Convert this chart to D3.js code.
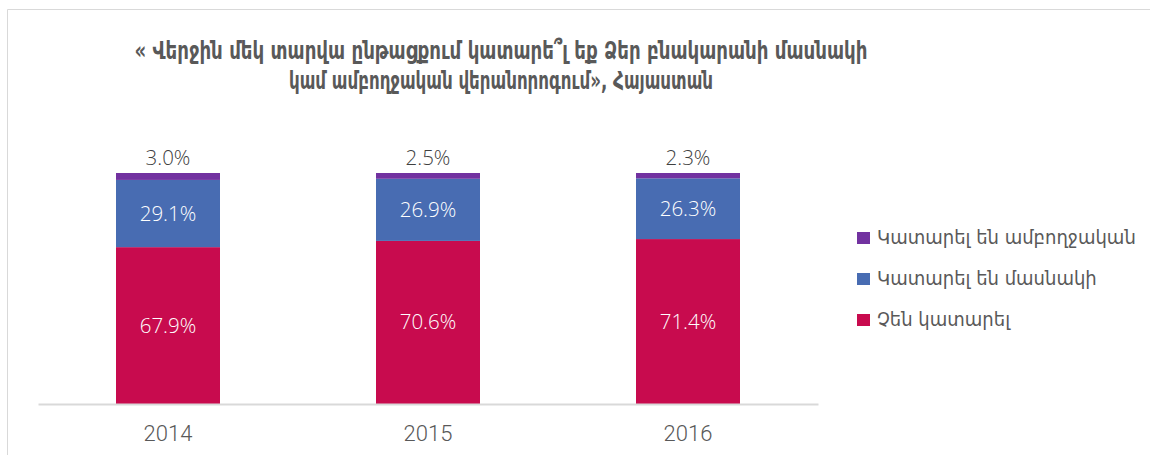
<!DOCTYPE html>
<html><head><meta charset="utf-8">
<script src="https://cdn.jsdelivr.net/npm/d3@7"></script>
<style>
html,body{margin:0;padding:0;background:#fff;}
svg{display:block;}
</style></head>
<body>
<svg id="chart" width="1150" height="455"></svg>
<script>
const years = ["2014", "2015", "2016"];
const notDone = [67.9, 70.6, 71.4];
const partial = [29.1, 26.9, 26.3];
const full = [3.0, 2.5, 2.3];
const seriesNames = ["Չեն կատարել", "Կատարել են մասնակի", "Կատարել են ամբողջական"];
const seriesColors = ["#C80B4E", "#486CB2", "#7232A0"];
const titleLines = ["« Վերջին մեկ տարվա ընթացքում կատարե՞լ եք Ձեր բնակարանի մասնակի", "կամ ամբողջական վերանորոգում», Հայաստան"];

const svg = d3.select("#chart");
const armFont = "'DejaVu Sans Condensed', 'DejaVu Sans', sans-serif";

// frame
svg.append("path").attr("d", "M7.5,455 L7.5,9.5 L1150,9.5")
  .attr("fill", "none").attr("stroke", "#d9d9d9").attr("stroke-width", 1);

// title
const title = svg.append("g");
const titleY = [59, 89];
const titleW = [733, 424];
titleLines.forEach((t, i) => {
  const tx = title.append("text").attr("x", 501).attr("y", titleY[i])
    .attr("text-anchor", "middle").attr("font-family", armFont)
    .attr("font-weight", "bold").attr("font-size", 24).attr("fill", "#595959")
    .text(t);
  tx.attr("textLength", titleW[i]).attr("lengthAdjust", "spacingAndGlyphs");
});

const x = d3.scaleBand().domain(years).range([38, 818]).paddingInner(0.6).paddingOuter(0.3);
const y = d3.scaleLinear().domain([0, 100]).range([404, 173]);

const rows = years.map((yr, i) => ({year: yr, s0: notDone[i], s1: partial[i], s2: full[i]}));
const stack = d3.stack().keys(["s0", "s1", "s2"])(rows);

const g = svg.append("g");
stack.forEach((layer, li) => {
  g.selectAll(null).data(layer).enter().append("rect")
    .attr("x", d => x(d.data.year))
    .attr("width", x.bandwidth())
    .attr("y", d => y(d[1]))
    .attr("height", d => y(d[0]) - y(d[1]))
    .attr("fill", seriesColors[li]);
});

// labels inside (series 0 and 1)
const labelFont = "'Open Sans', 'Noto Sans', sans-serif";
[0, 1].forEach(li => {
  g.selectAll(null).data(stack[li]).enter().append("text")
    .attr("x", d => x(d.data.year) + x.bandwidth() / 2)
    .attr("y", d => (y(d[0]) + y(d[1])) / 2 + 7)
    .attr("text-anchor", "middle").attr("font-family", labelFont)
    .attr("font-size", 20.5).attr("font-weight", 300).attr("fill", "#fff")
    .text(d => (d[1] - d[0]).toFixed(1) + "%");
});
// top labels above bar
g.selectAll(null).data(stack[2]).enter().append("text")
  .attr("x", d => x(d.data.year) + x.bandwidth() / 2)
  .attr("y", d => y(d[1]) - 8)
  .attr("text-anchor", "middle").attr("font-family", labelFont)
  .attr("font-size", 20.5).attr("font-weight", 300).attr("fill", "#404040")
  .text(d => (d[1] - d[0]).toFixed(1) + "%");

// axis
const axis = svg.append("g").attr("transform", "translate(0,404)")
  .call(d3.axisBottom(x).tickSize(0).tickPadding(21));
axis.select(".domain").attr("stroke", "#d9d9d9").attr("stroke-width", 2);
axis.selectAll("text").attr("font-family", "Roboto, sans-serif").attr("font-weight", 300)
  .attr("font-size", 22).attr("fill", "#595959");

// legend
const legendOrder = [2, 1, 0];
const leg = svg.append("g");
legendOrder.forEach((si, k) => {
  const ly = 232 + k * 41;
  leg.append("rect").attr("x", 857).attr("y", ly).attr("width", 13).attr("height", 12)
    .attr("fill", seriesColors[si]);
  leg.append("text").attr("x", 877).attr("y", ly + 12)
    .attr("font-family", armFont).attr("font-size", 20).attr("fill", "#595959")
    .text(seriesNames[si]);
});
</script>
</body></html>
